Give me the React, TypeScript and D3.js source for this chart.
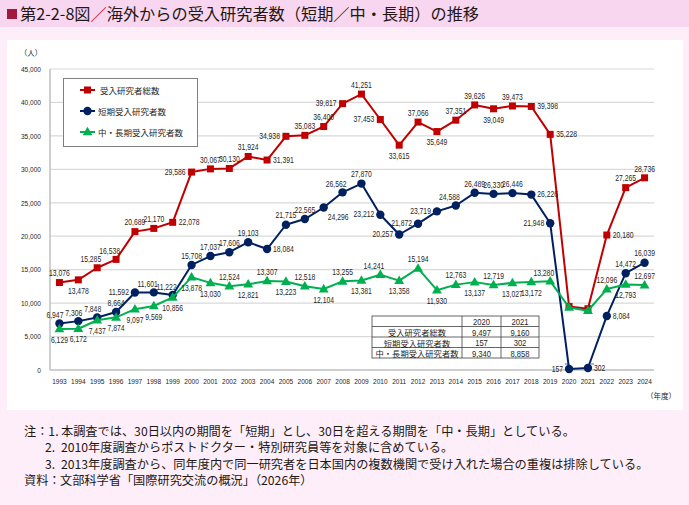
import React from "react";
import * as d3 from "d3";

const years = ["1993","1994","1995","1996","1997","1998","1999","2000","2001","2002","2003","2004","2005","2006","2007","2008","2009","2010","2011","2012","2013","2014","2015","2016","2017","2018","2019","2020","2021","2022","2023","2024"];

const totalResearchers = [13076,13478,15285,16538,20689,21170,22078,29586,30067,30130,31924,31391,34938,35083,36400,39817,41251,37453,33615,37066,35649,37351,39626,39049,39473,39398,35228,9497,9160,20180,27265,28736];
const shortTerm = [6947,7306,7848,8664,11592,11601,11222,15708,17037,17606,19103,18084,21715,22565,24296,26562,27870,23212,20257,21872,23719,24588,26489,26330,26446,26226,21948,157,302,8084,14472,16039];
const midLongTerm = [6129,6172,7437,7874,9097,9569,10856,13878,13030,12524,12821,13307,13223,12518,12104,13255,13381,14241,13358,15194,11930,12763,13137,12719,13027,13172,13280,9340,8858,12096,12793,12697];

// label placement codes (t: above, b: below, l: left, r: right, tl: above-left, br: below-right, "": none)
const totalLabelPos = ["t","b","tl","tl","t","t","r","l","t","t","t","r","l","t","t","l","t","l","b","t","b","t","t","b","t","r","r","","","r","t","t"];
const shortLabelPos = ["tl","tl","tl","t","l","tl","tl","t","t","t","t","r","t","t","br","tl","t","l","l","l","l","tl","t","t","t","r","l","l","r","r","t","t"];
const longLabelPos = ["b","b","b","b","b","b","b","b","b","t","b","t","b","t","b","t","b","tl","b","t","b","t","b","t","b","b","tl","","","t","b","t"];

const seriesNames = ["受入研究者総数","短期受入研究者数","中・長期受入研究者数"];
const yTicks = [0,5000,10000,15000,20000,25000,30000,35000,40000,45000];
const tableYears = ["2020","2021"];
const tableYearIdx = [27, 28];

const notes = [
  ["注：1.", "本調査では、30日以内の期間を「短期」とし、30日を超える期間を「中・長期」としている。"],
  ["2.", "2010年度調査からポストドクター・特別研究員等を対象に含めている。"],
  ["3.", "2013年度調査から、同年度内で同一研究者を日本国内の複数機関で受け入れた場合の重複は排除している。"],
  ["資料：", "文部科学省「国際研究交流の概況」（2026年）"],
];

const JP = "'Noto Sans CJK JP', 'Noto Sans', sans-serif";
const NUM = "'Liberation Sans', Arial, sans-serif";
const RED = "#c00000";
const BLUE = "#002060";
const GREEN = "#00b050";
const TXT = "#262626";
const NARROW = 0.82;

const x = d3.scaleBand<string>().domain(years).range([50, 654]);
const y = d3.scaleLinear().domain([0, 45000]).range([370, 69]);
const fmt = d3.format(",");
const cx = (i: number) => (x(years[i]) as number) + x.bandwidth() / 2;

// narrow numeric text (emulates a condensed face)
function NText({ x: tx, y: ty, anchor = "middle", size = 8.3, children }: { x: number; y: number; anchor?: string; size?: number; children: any }) {
  return (
    <text transform={`translate(${tx},${ty}) scale(${NARROW},1)`} textAnchor={anchor as any} dominantBaseline="central"
      fontFamily={NUM} fontSize={size} fill={TXT}>{children}</text>
  );
}

function labelAttrs(code: string, px: number, py: number) {
  switch (code) {
    case "t": return { x: px, y: py - 9, anchor: "middle" };
    case "b": return { x: px, y: py + 11, anchor: "middle" };
    case "l": return { x: px - 6, y: py, anchor: "end" };
    case "r": return { x: px + 6, y: py, anchor: "start" };
    case "tl": return { x: px + 4, y: py - 8, anchor: "end" };
    case "br": return { x: px + 4, y: py + 10, anchor: "start" };
    default: return null;
  }
}

function Marker({ kind, px, py, color }: { kind: string; px: number; py: number; color: string }) {
  if (kind === "square") return <rect x={px - 3.5} y={py - 3.5} width={7} height={7} fill={color} />;
  if (kind === "circle") return <circle cx={px} cy={py} r={4.2} fill={color} />;
  const tri = d3.symbol().type(d3.symbolTriangle).size(42)();
  return <path d={tri as string} transform={`translate(${px},${py + 0.5})`} fill={color} />;
}

function Series({ data, color, kind, pos }: { data: number[]; color: string; kind: string; pos: string[] }) {
  const line = d3.line<number>().x((_, i) => cx(i)).y((d) => y(d));
  return (
    <g>
      <path d={line(data) as string} fill="none" stroke={color} strokeWidth={2} strokeLinejoin="round" />
      {data.map((d, i) => <Marker key={i} kind={kind} px={cx(i)} py={y(d)} color={color} />)}
      {data.map((d, i) => {
        const a = labelAttrs(pos[i], cx(i), y(d));
        if (!a) return null;
        return <NText key={"l" + i} x={a.x} y={a.y} anchor={a.anchor}>{fmt(d)}</NText>;
      })}
    </g>
  );
}

export default function App() {
  const allSeries = [totalResearchers, shortTerm, midLongTerm];
  const colors = [RED, BLUE, GREEN];
  const kinds = ["square", "circle", "triangle"];
  const tX = [372, 462, 501, 539];
  const tY = [316, 326.5, 337, 347.5, 358];
  return (
    <div style={{ position: "absolute", left: 0, top: 0 }}>
      <svg width={689} height={505} style={{ display: "block" }}>
        <rect x={0} y={0} width={689} height={505} fill="#fdeef9" />
        <rect x={0} y={0} width={689} height={27} fill="#f9d6f0" />
        <rect x={7} y={9} width={10} height={10} fill="#a3183d" />
        <text x={20} y={20} fontFamily={JP} fontSize={16.2} fill="#231815">
          第2-2-8図<tspan fill={RED}>／</tspan>海外からの受入研究者数（短期／中・長期）の推移
        </text>
        <rect x={7} y={40} width={676} height={370} fill="#ffffff" />

        {yTicks.map((t) => (
          <g key={t}>
            <line x1={50} x2={654} y1={y(t)} y2={y(t)} stroke={t === 0 ? "#bfbfbf" : "#d9d9d9"} strokeWidth={t === 0 ? 1.5 : 1.2} />
            <NText x={41} y={y(t)} anchor="end" size={8}>{fmt(t)}</NText>
          </g>
        ))}
        <line x1={50} x2={50} y1={69} y2={370} stroke="#bfbfbf" strokeWidth={1.5} />
        {years.map((yr, i) => (
          <NText key={yr} x={cx(i)} y={381} size={8}>{yr}</NText>
        ))}
        <text x={31} y={52} textAnchor="middle" dominantBaseline="central" fontFamily={JP} fontSize={7.5} fill={TXT}>（人）</text>
        <text x={661} y={395} textAnchor="middle" dominantBaseline="central" fontFamily={JP} fontSize={7.5} fill={TXT}>（年度）</text>

        {allSeries.map((s, k) => (
          <Series key={k} data={s} color={colors[k]} kind={kinds[k]} pos={[totalLabelPos, shortLabelPos, longLabelPos][k]} />
        ))}
        <line x1={565} x2={568} y1={364} y2={364} stroke={TXT} strokeWidth={0.7} />
        <line x1={591} x2={594} y1={364} y2={364} stroke={TXT} strokeWidth={0.7} />

        <rect x={63.5} y={78.5} width={134} height={68} fill="#ffffff" stroke="#7f7f7f" strokeWidth={1} />
        {seriesNames.map((n, k) => {
          const ly = 90 + k * 21;
          return (
            <g key={n}>
              <line x1={80} x2={95} y1={ly} y2={ly} stroke={colors[k]} strokeWidth={2} />
              <Marker kind={kinds[k]} px={87.5} py={ly} color={colors[k]} />
              <text x={k === 0 ? 100 : 98} y={ly} dominantBaseline="central" fontFamily={JP} fontSize={8.5} fill={TXT}>{n}</text>
            </g>
          );
        })}

        <rect x={tX[0]} y={tY[0]} width={tX[3] - tX[0]} height={tY[4] - tY[0]} fill="#ffffff" stroke="#404040" strokeWidth={0.8} />
        {tY.slice(1, 4).map((yy) => <line key={yy} x1={tX[0]} x2={tX[3]} y1={yy} y2={yy} stroke="#404040" strokeWidth={0.8} />)}
        {tX.slice(1, 3).map((xx) => <line key={xx} x1={xx} x2={xx} y1={tY[0]} y2={tY[4]} stroke="#404040" strokeWidth={0.8} />)}
        {tableYears.map((t, j) => (
          <NText key={t} x={(tX[j + 1] + tX[j + 2]) / 2} y={(tY[0] + tY[1]) / 2 + 0.5} size={9.3}>{t}</NText>
        ))}
        {seriesNames.map((n, r) => (
          <g key={n}>
            <text x={(tX[0] + tX[1]) / 2} y={(tY[r + 1] + tY[r + 2]) / 2 + 0.5} textAnchor="middle" dominantBaseline="central" fontFamily={JP} fontSize={8.3} fill={TXT}>{n}</text>
            {tableYearIdx.map((idx, j) => (
              <NText key={j} x={(tX[j + 1] + tX[j + 2]) / 2} y={(tY[r + 1] + tY[r + 2]) / 2 + 0.5} size={9.3}>{fmt(allSeries[r][idx])}</NText>
            ))}
          </g>
        ))}

        {notes.map((n, i) => {
          const ny = 436 + i * 16.3;
          const first = i === 0 || i === 3;
          return (
            <g key={i} fontFamily={JP} fontSize={12.2} fill="#231815">
              <text x={first ? 24 : 45} y={ny}>{n[0]}</text>
              <text x={i === 3 ? 60 : 61} y={ny}>{n[1]}</text>
            </g>
          );
        })}
      </svg>
    </div>
  );
}
